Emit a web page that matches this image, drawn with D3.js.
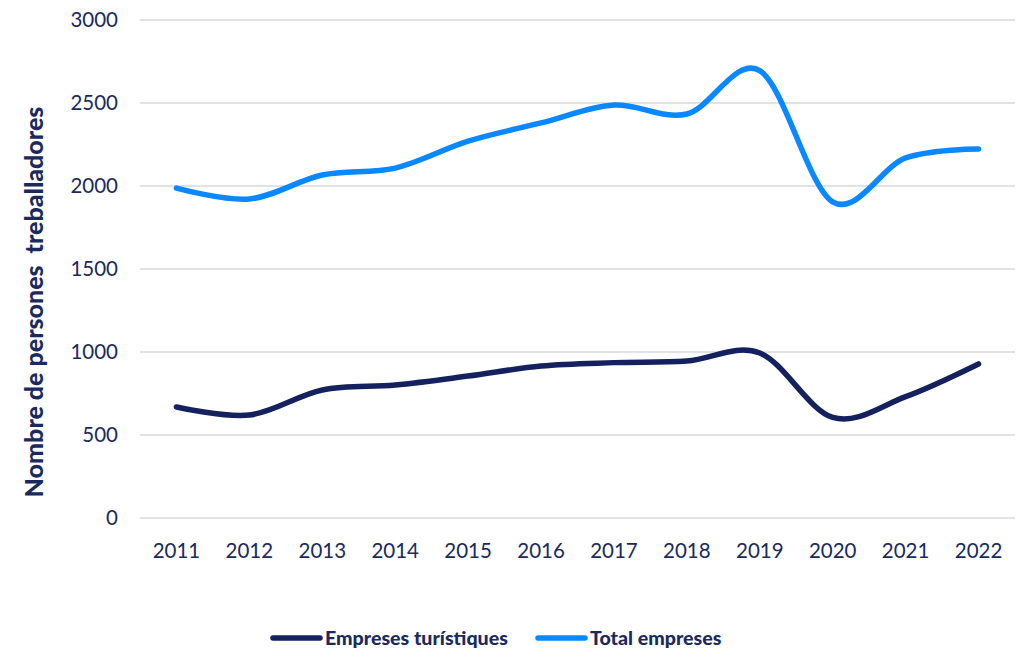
<!DOCTYPE html>
<html><head><meta charset="utf-8">
<script src="https://cdn.jsdelivr.net/npm/d3@7"></script>
<style>
body{margin:0;background:#fff;}
text{font-family:Lato,"Open Sans",sans-serif;}
</style></head>
<body><svg id="c" width="1025" height="650"></svg>
<script>
const years = ["2011","2012","2013","2014","2015","2016","2017","2018","2019","2020","2021","2022"];
const turistiques = [669,620,771,801,855,916,936,946,994,606,731,928];
const total = [1987,1922,2066,2108,2270,2380,2488,2434,2695,1905,2169,2223];
const yTicks = [0,500,1000,1500,2000,2500,3000];
const seriesNames = ["Empreses turístiques","Total empreses"];
const colors = ["#14215e","#0a88ff"];

const svg = d3.select("#c");
const pLeft=140, pRight=1015, pTop=20, pBottom=518;
const x = d3.scalePoint().domain(years).range([pLeft,pRight]).padding(0.5);
const y = d3.scaleLinear().domain([0,3000]).range([pBottom,pTop]);
const textColor="#1b2a5e";

svg.append("g").selectAll("line").data(yTicks).join("line")
  .attr("x1",pLeft).attr("x2",pRight).attr("y1",d=>y(d)).attr("y2",d=>y(d))
  .attr("stroke","#d9d9d9").attr("stroke-width",1.5);

svg.append("g").selectAll("text").data(yTicks).join("text")
  .attr("x",118).attr("y",d=>y(d)).attr("dy","0.35em").attr("text-anchor","end")
  .attr("font-size",20.5).attr("fill",textColor).text(d=>d);

svg.append("g").selectAll("text").data(years).join("text")
  .attr("x",d=>x(d)).attr("y",558).attr("text-anchor","middle")
  .attr("font-size",20.5).attr("fill",textColor).text(d=>d);

svg.append("text").attr("transform","translate(43,302) rotate(-90)")
  .attr("text-anchor","middle").attr("font-size",25).attr("font-weight",900)
  .attr("fill",textColor).attr("xml:space","preserve").text("Nombre de persones  treballadores");

const line = d3.line().x((d,i)=>x(years[i])).y(d=>y(d)).curve(d3.curveCardinal.tension(0));
[turistiques,total].forEach((s,k)=>{
  svg.append("path").attr("d",line(s)).attr("fill","none")
    .attr("stroke",colors[k]).attr("stroke-width",5.5).attr("stroke-linecap","round");
});

const legX=[273,538];
seriesNames.forEach((n,k)=>{
  svg.append("line").attr("x1",legX[k]).attr("x2",legX[k]+47).attr("y1",638).attr("y2",638)
    .attr("stroke",colors[k]).attr("stroke-width",5.5).attr("stroke-linecap","round");
  svg.append("text").attr("x",legX[k]+52).attr("y",645).attr("font-size",19.6)
    .attr("font-weight",900).attr("fill",textColor).text(n);
});
</script></body></html>
